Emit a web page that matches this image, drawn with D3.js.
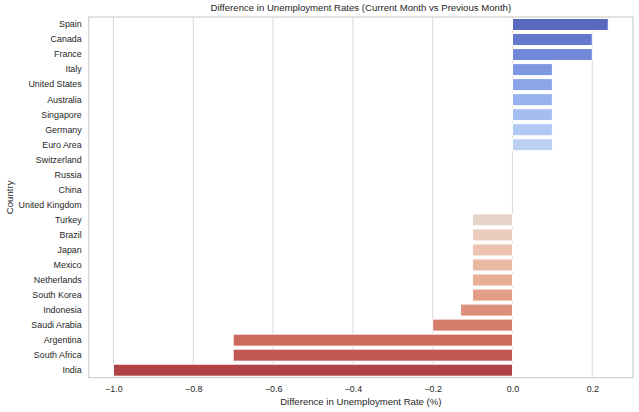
<!DOCTYPE html>
<html>
  <head>
    <meta charset="utf-8">
    <title> Unemployment difference </title>
    <script src="https://cdn.jsdelivr.net/npm/d3@7"></script>
    <style>
      body { margin: 0; background: white; }
      text { font-family: "Liberation Sans", Arial, sans-serif; fill: #262626; }
    </style>
  </head>
  <body>
    <script>
      var countries = ['Spain', 'Canada', 'France', 'Italy', 'United States', 'Australia', 'Singapore', 'Germany',
        'Euro Area', 'Switzerland', 'Russia', 'China', 'United Kingdom', 'Turkey', 'Brazil', 'Japan', 'Mexico',
        'Netherlands', 'South Korea', 'Indonesia', 'Saudi Arabia', 'Argentina', 'South Africa', 'India'];
      var diffs = [0.24, 0.2, 0.2, 0.1, 0.1, 0.1, 0.1, 0.1, 0.1, 0, 0, 0, 0, -0.1, -0.1, -0.1, -0.1, -0.1, -0.1,
        -0.13, -0.2, -0.7, -0.7, -1.0];
      var xTicks = [-1.0, -0.8, -0.6, -0.4, -0.2, 0.0, 0.2];

      // coolwarm colormap control points
      var cw = [[59,76,192],[68,90,204],[77,104,215],[87,117,225],[98,130,234],[108,142,241],[119,154,247],
        [130,165,251],[141,176,254],[152,185,255],[163,194,255],[174,201,253],[184,208,249],[194,213,244],
        [204,217,238],[213,219,230],[221,221,221],[229,216,209],[236,211,197],[241,204,184],[245,196,172],
        [247,187,159],[247,177,147],[247,166,134],[244,154,123],[241,141,111],[236,127,99],[229,112,89],
        [222,96,77],[213,80,66],[203,62,56],[192,40,47],[180,4,38]];
      var coolwarm = d3.scaleLinear()
        .domain(cw.map(function(d, i){ return i / (cw.length - 1); }))
        .range(cw.map(function(c){ return d3.rgb(c[0], c[1], c[2]); }))
        .interpolate(d3.interpolateRgb);

      var W = 639, H = 412;
      var mLeft = 88.7, mRight = 633, mTop = 17, mBottom = 377.7;

      var svg = d3.select('body').append('svg').attr('width', W).attr('height', H);

      var x = d3.scaleLinear().domain([-1.062, 0.302]).range([mLeft, mRight]);
      var y = d3.scaleBand().domain(countries).range([mTop, mBottom]).paddingInner(0.2).paddingOuter(0.1);

      // grid
      svg.append('g').selectAll('line').data(xTicks).enter().append('line')
        .attr('x1', function(d){ return x(d); }).attr('x2', function(d){ return x(d); })
        .attr('y1', mTop).attr('y2', mBottom)
        .attr('stroke', '#dcdcdc').attr('stroke-width', 1.1);

      // bars
      svg.append('g').selectAll('rect').data(countries).enter().append('rect')
        .attr('x', function(d, i){ return Math.min(x(0), x(diffs[i])); })
        .attr('y', function(d){ return y(d); })
        .attr('width', function(d, i){ return Math.abs(x(diffs[i]) - x(0)); })
        .attr('height', y.bandwidth())
        .attr('fill', function(d, i){
          var c = d3.hsl(coolwarm((i + 1) / (countries.length + 1)));
          c.s *= 0.75;
          return c.formatHex();
        })
        .attr('stroke', 'white').attr('stroke-width', 1);

      // frame
      svg.append('rect').attr('x', mLeft).attr('y', mTop).attr('width', mRight - mLeft).attr('height', mBottom - mTop)
        .attr('fill', 'none').attr('stroke', '#d0d0d0').attr('stroke-width', 1.2);

      // axes
      var xAxis = d3.axisBottom(x).tickValues(xTicks).tickSize(0).tickPadding(8)
        .tickFormat(function(d){ return d3.format('.1f')(d).replace('-', '\u2212'); });
      var gx = svg.append('g').attr('transform', 'translate(0,' + mBottom + ')').call(xAxis);
      gx.select('.domain').remove();
      gx.selectAll('text').attr('font-size', 8.9).attr('fill', '#262626');

      var yAxis = d3.axisLeft(y).tickSize(0).tickPadding(7);
      var gy = svg.append('g').attr('transform', 'translate(' + mLeft + ',0)').call(yAxis);
      gy.select('.domain').remove();
      gy.selectAll('text').attr('font-size', 8.9).attr('fill', '#262626');

      svg.append('text').attr('x', (mLeft + mRight) / 2).attr('y', 11).attr('text-anchor', 'middle')
        .attr('font-size', 9.6).text('Difference in Unemployment Rates (Current Month vs Previous Month)');
      svg.append('text').attr('x', (mLeft + mRight) / 2).attr('y', 405).attr('text-anchor', 'middle')
        .attr('font-size', 9.6).text('Difference in Unemployment Rate (%)');
      svg.append('text').attr('transform', 'translate(13,' + (mTop + mBottom) / 2 + ') rotate(-90)')
        .attr('text-anchor', 'middle').attr('font-size', 9.6).text('Country');
    </script>
  </body>
</html>
